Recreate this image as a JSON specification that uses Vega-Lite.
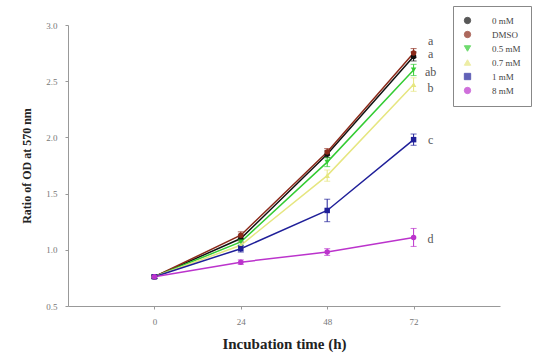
{
  "$schema": "https://vega.github.io/schema/vega-lite/v6.json",
  "width": 432,
  "height": 281,
  "autosize": {"type": "none"},
  "padding": {"left": 68, "top": 25, "right": 45, "bottom": 54},
  "background": "white",
  "config": {
    "view": {"stroke": null},
    "font": "Liberation Serif",
    "axis": {"domainColor": "#999999", "tickColor": "#999999", "labelColor": "#777777", "labelFont": "Liberation Serif", "titleFont": "Liberation Serif", "grid": false}
  },
  "datasets": {
    "pts": [
      {"series": "0 mM", "time": 0, "value": 0.76, "err": 0.015},
      {"series": "0 mM", "time": 24, "value": 1.10, "err": 0.03},
      {"series": "0 mM", "time": 48, "value": 1.85, "err": 0.03},
      {"series": "0 mM", "time": 72, "value": 2.72, "err": 0.04},
      {"series": "DMSO", "time": 0, "value": 0.76, "err": 0.015},
      {"series": "DMSO", "time": 24, "value": 1.13, "err": 0.03},
      {"series": "DMSO", "time": 48, "value": 1.87, "err": 0.03},
      {"series": "DMSO", "time": 72, "value": 2.75, "err": 0.04},
      {"series": "0.5 mM", "time": 0, "value": 0.76, "err": 0.015},
      {"series": "0.5 mM", "time": 24, "value": 1.07, "err": 0.03},
      {"series": "0.5 mM", "time": 48, "value": 1.78, "err": 0.04},
      {"series": "0.5 mM", "time": 72, "value": 2.60, "err": 0.05},
      {"series": "0.7 mM", "time": 0, "value": 0.76, "err": 0.015},
      {"series": "0.7 mM", "time": 24, "value": 1.04, "err": 0.03},
      {"series": "0.7 mM", "time": 48, "value": 1.66, "err": 0.05},
      {"series": "0.7 mM", "time": 72, "value": 2.47, "err": 0.06},
      {"series": "1 mM", "time": 0, "value": 0.76, "err": 0.015},
      {"series": "1 mM", "time": 24, "value": 1.01, "err": 0.03},
      {"series": "1 mM", "time": 48, "value": 1.35, "err": 0.1},
      {"series": "1 mM", "time": 72, "value": 1.98, "err": 0.05},
      {"series": "8 mM", "time": 0, "value": 0.76, "err": 0.015},
      {"series": "8 mM", "time": 24, "value": 0.89, "err": 0.02},
      {"series": "8 mM", "time": 48, "value": 0.98, "err": 0.03},
      {"series": "8 mM", "time": 72, "value": 1.11, "err": 0.08}
    ],
    "letters": [
      {"time": 72, "value": 2.86, "label": "a"},
      {"time": 72, "value": 2.74, "label": "a"},
      {"time": 72, "value": 2.58, "label": "ab"},
      {"time": 72, "value": 2.44, "label": "b"},
      {"time": 72, "value": 1.98, "label": "c"},
      {"time": 72, "value": 1.10, "label": "d"}
    ]
  },
  "encoding": {
    "x": {"field": "time", "type": "quantitative",
      "scale": {"domain": [-24, 96], "nice": false, "zero": false},
      "axis": {"values": [0, 24, 48, 72], "title": "Incubation time (h)", "titleFontSize": 15, "titleFontWeight": "bold", "titleColor": "#222222", "labelFontSize": 9, "tickSize": 3, "labelPadding": 8, "titlePadding": 10}},
    "y": {"field": "value", "type": "quantitative", "title": "Ratio of OD at 570 nm",
      "scale": {"domain": [0.5, 3.0], "nice": false, "zero": false},
      "axis": {"values": [0.5, 1.0, 1.5, 2.0, 2.5, 3.0], "format": ".1f", "title": "Ratio of OD at 570 nm", "titleFontSize": 12, "titleFontWeight": "bold", "titleColor": "#222222", "labelFontSize": 9, "tickSize": 3, "labelPadding": 8, "titlePadding": 12}}
  },
  "layer": [
    {
      "data": {"name": "pts"},
      "mark": {"type": "line", "strokeWidth": 1.5},
      "encoding": {
        "color": {"field": "series", "type": "nominal",
          "scale": {"domain": ["0 mM", "DMSO", "0.5 mM", "0.7 mM", "1 mM", "8 mM"], "range": ["#111111", "#8b2a1a", "#33cc33", "#e6e680", "#1f1f99", "#bb33cc"]},
          "legend": {"title": null, "orient": "none", "legendX": 385, "legendY": -19, "strokeColor": "#888888", "padding": 10, "labelFontSize": 9, "labelColor": "#444444", "symbolSize": 40, "symbolOpacity": 1, "symbolStrokeWidth": 1, "rowPadding": 3, "labelOffset": 20, "labelLimit": 60}}
      }
    },
    {
      "data": {"name": "pts"},
      "mark": {"type": "errorbar", "ticks": {"size": 6}, "thickness": 1},
      "encoding": {
        "yError": {"field": "err"},
        "color": {"field": "series", "type": "nominal"}
      }
    },
    {
      "data": {"name": "pts"},
      "mark": {"type": "point", "filled": true, "size": 30, "opacity": 1},
      "encoding": {
        "color": {"field": "series", "type": "nominal"},
        "shape": {"field": "series", "type": "nominal", "legend": null,
          "scale": {"domain": ["0 mM", "DMSO", "0.5 mM", "0.7 mM", "1 mM", "8 mM"], "range": ["circle", "circle", "triangle-down", "triangle-up", "square", "circle"]}}
      }
    },
    {
      "data": {"name": "letters"},
      "mark": {"type": "text", "dx": 17, "fontSize": 12, "color": "#555555", "font": "Liberation Serif"},
      "encoding": {
        "text": {"field": "label"}
      }
    }
  ]
}
